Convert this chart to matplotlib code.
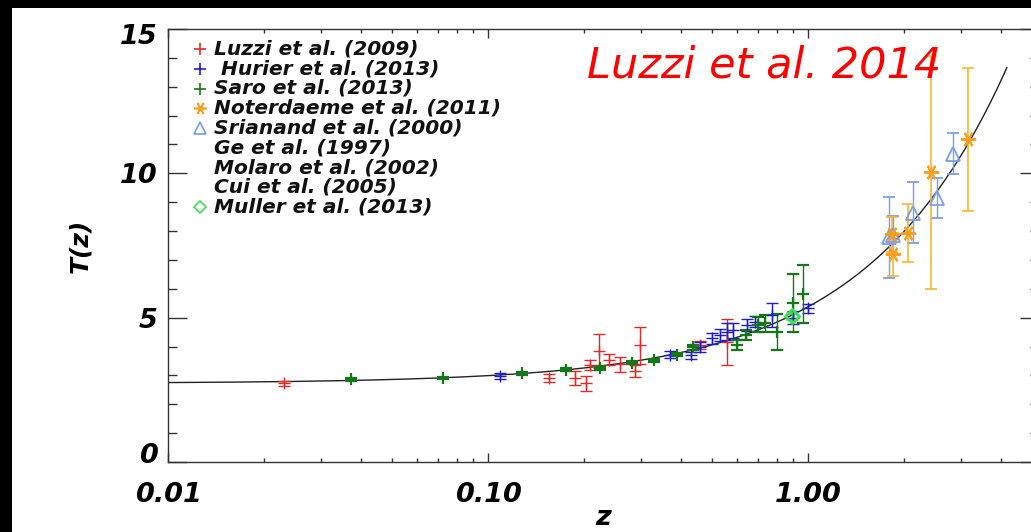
import numpy as np
import matplotlib
matplotlib.use("Agg")
import matplotlib.pyplot as plt
from matplotlib.patches import Rectangle
from matplotlib.transforms import ScaledTranslation
from matplotlib.ticker import MultipleLocator, LogLocator, NullFormatter

plt.rcParams["font.family"] = ["DejaVu Sans"]

# ---- measurements: redshift z, temperature T(z) [K], 1-sigma error ----
luzzi09_z = [0.023, 0.155, 0.187, 0.202, 0.209, 0.222, 0.238, 0.259, 0.288, 0.299, 0.460, 0.558]
luzzi09_T = [2.73, 2.90, 2.91, 2.72, 3.36, 3.84, 3.55, 3.38, 3.15, 4.05, 4.05, 4.15]
luzzi09_e = [0.09, 0.14, 0.25, 0.25, 0.17, 0.60, 0.19, 0.26, 0.20, 0.64, 0.15, 0.80]

hurier_z = [0.109, 0.370, 0.431, 0.460, 0.500, 0.531, 0.558, 0.583, 0.645, 0.683, 0.770, 0.900, 1.000]
hurier_T = [2.98, 3.71, 3.69, 3.99, 4.28, 4.40, 4.51, 4.57, 4.75, 4.86, 5.09, 5.00, 5.32]
hurier_e = [0.12, 0.12, 0.12, 0.18, 0.20, 0.20, 0.30, 0.26, 0.20, 0.20, 0.43, 0.22, 0.17]

saro_z = [0.0373, 0.0722, 0.128, 0.175, 0.224, 0.281, 0.329, 0.389, 0.438, 0.598, 0.640, 0.699, 0.734, 0.798, 0.900, 0.964]
saro_T = [2.86, 2.92, 3.07, 3.19, 3.25, 3.44, 3.53, 3.72, 3.97, 4.05, 4.40, 4.75, 4.80, 4.51, 5.50, 5.81]
saro_e = [0.05, 0.04, 0.05, 0.05, 0.06, 0.06, 0.05, 0.05, 0.08, 0.17, 0.17, 0.26, 0.29, 0.63, 1.00, 1.00]

noterdaeme_z = [1.827, 1.848, 2.058, 2.418, 3.170]
noterdaeme_T = [7.89, 7.20, 7.94, 10.03, 11.18]
noterdaeme_e = [0.60, 0.75, 1.00, 4.03, 2.47]

srianand_z = [1.795, 1.840, 2.133, 2.535, 2.830]
srianand_T = [7.78, 7.85, 8.64, 9.15, 10.67]
srianand_e = [1.40, 0.68, 1.06, 0.69, 0.71]

muller_z = [0.89]
muller_T = [5.07]
muller_e = [0.10]

# adiabatic-like model T0 (1+z)^(1-beta)
T0 = 2.725
beta = 0.02
model_zmax = 4.18

legend_labels = ["Luzzi et al. (2009)", " Hurier et al. (2013)", "Saro et al. (2013)",
                 "Noterdaeme et al. (2011)", "Srianand et al. (2000)", "Ge et al. (1997)",
                 "Molaro et al. (2002)", "Cui et al. (2005)", "Muller et al. (2013)"]

x_ticks = [0.01, 0.1, 1.0]
x_ticklabels = ["0.01", "0.10", "1.00"]
y_ticks = [0, 5, 10, 15]

# ---- colours ----
c_red = "#dd2a2a"
c_blue = "#1c1cc8"
c_green = "#16761a"
c_orange = "#ff9d1e"
c_orange_bar = "#f2b634"
c_lblue = "#7b9fe2"
c_lgreen = "#3fdc55"

W, H = 1031, 532
fig = plt.figure(figsize=(W / 100, H / 100), dpi=100, facecolor="black")
fig.add_artist(Rectangle((12 / W, 0), 1, (H - 8) / H, transform=fig.transFigure,
                         facecolor="white", edgecolor="none", zorder=-5))

ax_l, ax_r, ax_t, ax_b = 168, 1039, 29, 462
ax = fig.add_axes([ax_l / W, (H - ax_b) / H, (ax_r - ax_l) / W, (ax_b - ax_t) / H])
ax.set_facecolor("white")

ax.set_xscale("log")
ax.set_xlim(0.01, 5.27)
ax.set_ylim(0, 15)

zz = np.logspace(-2, np.log10(model_zmax), 400)
ax.plot(zz, T0 * (1 + zz) ** (1 - beta), color="#222222", lw=1.0, zorder=2)

eb = dict(linestyle="none", capsize=4.5, elinewidth=1.0, capthick=1.0, zorder=3)
ax.errorbar(luzzi09_z, luzzi09_T, yerr=luzzi09_e, fmt="+", color=c_red, ms=9, mew=1.0, **eb)
ax.errorbar(hurier_z, hurier_T, yerr=hurier_e, fmt="+", color=c_blue, ms=9, mew=1.0, **eb)
ax.errorbar(saro_z, saro_T, yerr=saro_e, fmt="+", color=c_green, ms=9, mew=1.6, **eb)
ax.errorbar(srianand_z, srianand_T, yerr=srianand_e, fmt="^", color=c_lblue, ms=10,
            mfc="none", mew=1.3, **eb)
ax.errorbar(noterdaeme_z, noterdaeme_T, yerr=noterdaeme_e, fmt="none", ecolor=c_orange_bar,
            linestyle="none", capsize=4.5, elinewidth=1.2, capthick=1.2, zorder=3)
ax.plot(noterdaeme_z, noterdaeme_T, linestyle="none", marker=(6, 2, 90), ms=11,
        mec=c_orange, mew=1.4, zorder=4)
ax.errorbar(muller_z, muller_T, yerr=muller_e, fmt="D", color=c_lgreen, ms=7,
            mfc="none", mew=2.0, **eb)

# ---- axes styling ----
for s in ax.spines.values():
    s.set_color("#333333")
    s.set_linewidth(1.0)

ax.set_xticks(x_ticks, x_ticklabels)
ax.xaxis.set_minor_locator(LogLocator(base=10, subs=np.arange(2, 10)))
ax.xaxis.set_minor_formatter(NullFormatter())
ax.set_yticks(y_ticks)
ax.yaxis.set_minor_locator(MultipleLocator(1))

ax.tick_params(axis="both", which="both", direction="in", top=True, right=True,
               color="#333333", width=1.0)
ax.tick_params(axis="x", which="major", length=6.5, pad=14.5)
ax.tick_params(axis="x", which="minor", length=3)
ax.tick_params(axis="y", which="major", length=13.5, pad=7.5)
ax.tick_params(axis="y", which="minor", length=6.5)

for lbl in ax.get_xticklabels() + ax.get_yticklabels():
    lbl.set_fontsize(19.5)
    lbl.set_fontweight("bold")
    lbl.set_fontstyle("oblique")

# the bottom label sits on the axis line and the top one just under the frame
y_label_shift_pt = [6.5, 0.0, 0.5, -3.5]
for lbl, dy in zip(ax.get_yticklabels(), y_label_shift_pt):
    lbl.set_transform(lbl.get_transform() + ScaledTranslation(0, dy / 72, fig.dpi_scale_trans))

ax.set_xlabel("z", fontsize=19.5, fontweight="bold", fontstyle="oblique")
ax.xaxis.label.set_verticalalignment("bottom")
ax.xaxis.set_label_coords(0.5, (ax_b - (H - 1)) / (ax_b - ax_t))
ax.set_ylabel("T(z)", fontsize=18, fontweight="bold", fontstyle="oblique", labelpad=20)

# ---- legend drawn as marker + text rows ----
pw, ph = ax_r - ax_l, ax_b - ax_t
legend_markers = [("+", c_red), ("+", c_blue), ("+", c_green), ((6, 2, 90), c_orange),
                  ("^", c_lblue), (None, None), (None, None), (None, None), ("D", c_lgreen)]
for i, (label, (mk, col)) in enumerate(zip(legend_labels, legend_markers)):
    ypx = 49 + 19.75 * i
    ya = (ax_b - ypx) / ph
    if mk is not None:
        ax.plot([(200 - ax_l) / pw], [ya], transform=ax.transAxes, linestyle="none",
                marker=mk, ms=9 if mk != "D" else 6, mec=col, mfc="none", mew=1.2,
                clip_on=False)
    ax.text((214 - ax_l) / pw, ya, label, transform=ax.transAxes, ha="left", va="center",
            fontsize=14.5, fontweight="bold", fontstyle="oblique", color="#111111")

fig.text(587 / W, (H - 78) / H, "Luzzi et al. 2014", color="#ff0000", fontsize=31,
         fontstyle="oblique", ha="left", va="baseline")

fig.savefig("out.png", dpi=100, facecolor="black")
